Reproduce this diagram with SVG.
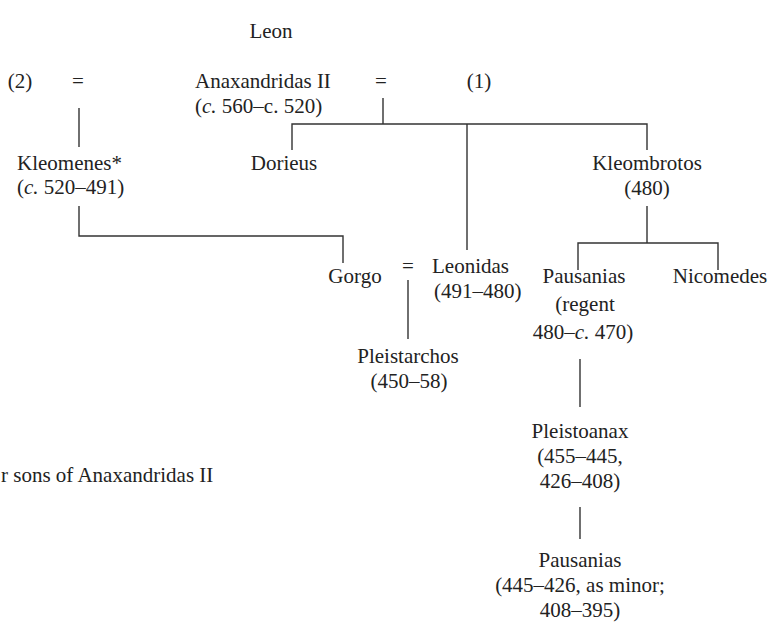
<svg xmlns="http://www.w3.org/2000/svg" width="777" height="625" viewBox="0 0 777 625">
<style>
text{font-family:"Liberation Serif","Times New Roman",serif;font-size:21px;fill:#222}
.m{text-anchor:middle}
.i{font-style:italic}
.ln{stroke:#333;stroke-width:1.4;fill:none}
</style>
<rect width="777" height="625" fill="#fff"/>
<g id="connectors">
<path class="ln" d="M79 108V147"/>
<path class="ln" d="M383 98V124M292 150V124H647V150M467 124V250"/>
<path class="ln" d="M79 206V236H343V263"/>
<path class="ln" d="M408 280V339"/>
<path class="ln" d="M647 206V243M578 270V243H718V270"/>
<path class="ln" d="M580 359V407"/>
<path class="ln" d="M580 507V539"/>
</g>
<g id="leon"><text class="m" x="271" y="38">Leon</text></g>
<g id="wife2"><text class="m" x="20" y="88">(2)</text></g>
<g id="eq-left"><text class="m" x="78" y="88">=</text></g>
<g id="anaxandridas"><text x="195" y="88">Anaxandridas II</text><text x="195" y="113">(<tspan class="i">c.</tspan> 560–c. 520)</text></g>
<g id="eq-right"><text class="m" x="381" y="88">=</text></g>
<g id="wife1"><text class="m" x="479" y="88">(1)</text></g>
<g id="kleomenes"><text x="17" y="170">Kleomenes*</text><text x="17" y="194">(<tspan class="i">c.</tspan> 520–491)</text></g>
<g id="dorieus"><text class="m" x="284" y="170">Dorieus</text></g>
<g id="kleombrotos"><text class="m" x="647" y="170">Kleombrotos</text><text class="m" x="647" y="195">(480)</text></g>
<g id="gorgo"><text class="m" x="355" y="283">Gorgo</text></g>
<g id="eq-gorgo"><text class="m" x="408" y="273">=</text></g>
<g id="leonidas"><text x="432" y="273">Leonidas</text><text x="434" y="298">(491–480)</text></g>
<g id="pleistarchos"><text class="m" x="408" y="363">Pleistarchos</text><text class="m" x="409" y="388">(450–58)</text></g>
<g id="pausanias1"><text class="m" x="584" y="283">Pausanias</text><text class="m" x="585" y="311">(regent</text><text class="m" x="583" y="339">480–<tspan class="i">c.</tspan> 470)</text></g>
<g id="nicomedes"><text class="m" x="720" y="283">Nicomedes</text></g>
<g id="pleistoanax"><text class="m" x="580" y="438">Pleistoanax</text><text class="m" x="580" y="463">(455–445,</text><text class="m" x="580" y="488">426–408)</text></g>
<g id="pausanias2"><text class="m" x="580" y="567">Pausanias</text><text class="m" x="580" y="592">(445–426, as minor;</text><text class="m" x="580" y="617">408–395)</text></g>
<g id="note"><text x="1" y="482">r sons of Anaxandridas II</text></g>
</svg>
